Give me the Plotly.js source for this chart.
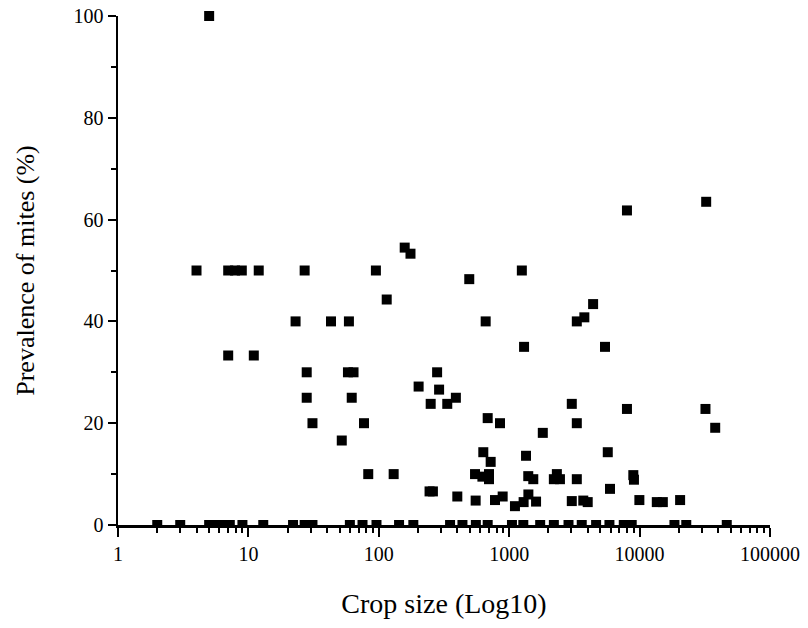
<!DOCTYPE html>
<html>
<head>
<meta charset="utf-8">
<script src="https://cdn.plot.ly/plotly-3.0.1.min.js"></script>
<style>html,body{margin:0;padding:0;background:#fff;}#chart{width:808px;height:628px;}</style>
</head>
<body>
<div id="chart"></div>
<script>
// Crops with mites detected: crop size and prevalence (%)
var cropSize = [
  5,
  4, 7, 7.9, 8.9, 12, 27, 95, 1250,
  158, 175, 115,
  23, 43, 59,
  7, 11,
  28, 58, 64, 280,
  202, 290, 250, 335,
  28, 62, 390,
  31, 77, 52,
  83, 130, 245, 260,
  494, 660, 1300, 5430,
  3300, 3770, 4400,
  8000, 32400,
  3020, 8000, 32000, 38000,
  684, 850, 3300, 1810,
  633, 721, 1346, 5700,
  547, 623, 700, 700,
  1400, 1530,
  2200, 2320, 2450,
  3300, 8950, 9050, 5930,
  400, 553, 778, 891,
  1107, 1290, 1403, 1607,
  3020, 3700, 4000,
  9960, 13550, 15070, 20450
];
var prevalence = [
  100,
  50, 50, 50, 50, 50, 50, 50, 50,
  54.5, 53.3, 44.3,
  40, 40, 40,
  33.3, 33.3,
  30, 30, 30, 30,
  27.2, 26.6, 23.8, 23.8,
  25, 25, 25,
  20, 20, 16.6,
  10, 10, 6.6, 6.6,
  48.3, 40, 35, 35,
  40, 40.8, 43.4,
  61.8, 63.5,
  23.8, 22.8, 22.8, 19.1,
  21, 20, 20, 18.1,
  14.3, 12.4, 13.6, 14.3,
  10, 9.5, 10, 9,
  9.6, 9,
  9, 10, 9,
  9, 9.8, 8.9, 7.1,
  5.6, 4.8, 4.9, 5.6,
  3.7, 4.5, 6.0, 4.6,
  4.7, 4.8, 4.5,
  4.9, 4.5, 4.5, 4.9
];
// Crops with no mites (prevalence 0)
var zeroCropSize = [2, 3, 5, 5.6, 6.3, 7.2, 9, 13, 22, 27, 31, 60, 75, 96, 143, 184,
  352, 438, 555, 684, 1050, 1283, 1728, 2200, 2850, 3600, 4640, 5870, 7560, 8700,
  18500, 22800, 46600];
var zeroPrevalence = zeroCropSize.map(function(){ return 0; });

var xTickVals = [1, 10, 100, 1000, 10000, 100000];
var xTickText = ['1', '10', '100', '1000', '10000', '100000'];
var yTickVals = [0, 20, 40, 60, 80, 100];

var fontFam = '"Liberation Serif", "Times New Roman", serif';
var marker = {symbol: 'square', size: 10, color: '#000000', line: {width: 0}};

var traces = [
  {x: cropSize, y: prevalence, type: 'scatter', mode: 'markers', marker: marker, cliponaxis: false, hoverinfo: 'x+y'},
  {x: zeroCropSize, y: zeroPrevalence, type: 'scatter', mode: 'markers', marker: marker, cliponaxis: true, hoverinfo: 'x+y'}
];

var layout = {
  width: 808, height: 628,
  margin: {l: 118, r: 38, t: 16, b: 103},
  paper_bgcolor: '#ffffff', plot_bgcolor: '#ffffff',
  showlegend: false,
  font: {family: fontFam, color: '#000000', size: 20},
  xaxis: {
    type: 'log', range: [0, 5],
    tickmode: 'array', tickvals: xTickVals, ticktext: xTickText,
    ticks: 'outside', ticklen: 9, tickwidth: 2, tickcolor: '#000',
    minor: {dtick: 'D1', ticks: 'outside', ticklen: 5, tickwidth: 2, tickcolor: '#000'},
    showline: true, linecolor: '#000', linewidth: 2.5,
    showgrid: false, zeroline: false,
    tickfont: {family: fontFam, size: 20, color: '#000'},
    title: {text: 'Crop size (Log10)', font: {family: fontFam, size: 28, color: '#000'}, standoff: 30}
  },
  yaxis: {
    range: [0, 100],
    tickmode: 'array', tickvals: yTickVals,
    ticks: 'outside', ticklen: 8, tickwidth: 2, tickcolor: '#000',
    minor: {dtick: 10, ticks: 'outside', ticklen: 5, tickwidth: 2, tickcolor: '#000'},
    showline: true, linecolor: '#000', linewidth: 2.5,
    showgrid: false, zeroline: false,
    tickfont: {family: fontFam, size: 20, color: '#000'},
    title: {text: 'Prevalence of mites (%)', font: {family: fontFam, size: 26, color: '#000'}, standoff: 32}
  }
};

Plotly.newPlot('chart', traces, layout, {displayModeBar: false, staticPlot: true});
</script>
</body>
</html>
